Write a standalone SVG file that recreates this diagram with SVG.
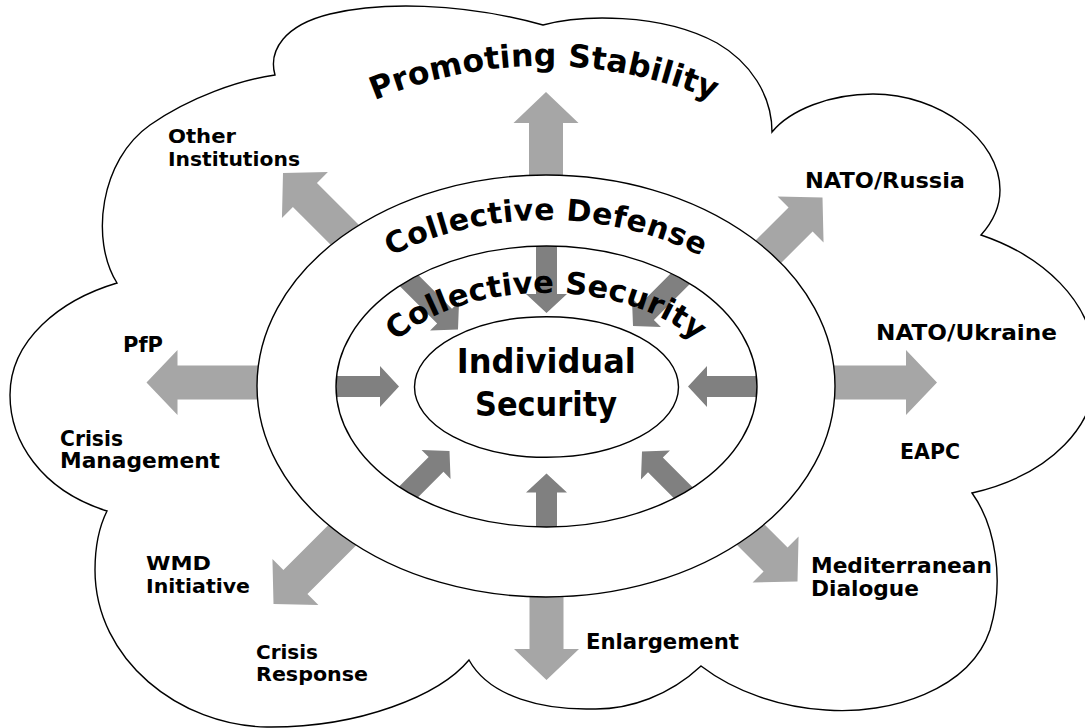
<svg xmlns="http://www.w3.org/2000/svg" xmlns:xlink="http://www.w3.org/1999/xlink" width="1085" height="728" viewBox="0 0 1085 728">
<style>
.outline{fill:#fff;stroke:#000;stroke-width:1.4}
.ring{fill:none;stroke:#000;stroke-width:1.4}
.la{fill:#a6a6a6}
.da{fill:#808080}
.lbl{font-family:"DejaVu Sans","Liberation Sans",sans-serif;font-weight:bold;fill:#000}
.arc{font-family:"DejaVu Sans","Liberation Sans",sans-serif;font-weight:bold;fill:#000}
</style>
<defs>
<path id="lightArrow" d="M0,0 L-31,-32.5 L-31,-17 L-200,-17 L-200,17 L-31,17 L-31,32.5 Z"/>
<path id="darkArrow" d="M0,0 L-19,-20.5 L-19,-10.5 L-130,-10.5 L-130,10.5 L-19,10.5 L-19,20.5 Z"/>
<clipPath id="midClip"><ellipse cx="546.5" cy="386.5" rx="210.5" ry="140.5"/></clipPath>
<path id="arcPromo" d="M108,502 A436,436 0 0 1 980,502"/>
<path id="arcDef" d="M298,386 A248,166 0 0 1 794,386"/>
<path id="arcSec" d="M370,395 A176,102 0 0 1 722,395"/>
</defs>

<g id="cloud">
<path class="outline" d="M117,283 C90,240 100,160 150,125 C190,97 240,80 275,75 C268,50 285,25 330,14 C380,2 460,2 543,25 C580,15 660,12 717,43 C750,62 772,95 772,132 C790,110 830,94 873,94 C940,94 1000,140 1000,190 C1000,210 990,225 981,235 C1040,255 1095,300 1095,365 C1100,425 1050,475 972,493 C995,525 1005,580 990,630 C970,690 890,715 826,710 C780,707 735,692 701,666 C670,695 630,710 592,709 C545,710 490,698 469,660 C440,695 360,728 267,727 C180,726 95,660 95,570 C95,545 100,525 107,511 C40,490 10,440 10,395 C10,340 60,300 117,283 Z"/>
</g>

<g id="connectors">
<g id="outer-arrows">
<use href="#lightArrow" class="la" transform="translate(546,92) rotate(-90)"/>
<use href="#lightArrow" class="la" transform="translate(283,173) rotate(-135)"/>
<use href="#lightArrow" class="la" transform="translate(822.5,197.5) rotate(-45)"/>
<use href="#lightArrow" class="la" transform="translate(937,382.5) rotate(0)"/>
<use href="#lightArrow" class="la" transform="translate(146.5,382.5) rotate(180)"/>
<use href="#lightArrow" class="la" transform="translate(273.5,604) rotate(135)"/>
<use href="#lightArrow" class="la" transform="translate(546.5,680) rotate(90)"/>
<use href="#lightArrow" class="la" transform="translate(797.5,581.5) rotate(45)"/>
</g>
</g>

<g id="collective-defense">
<ellipse class="outline" cx="546" cy="386" rx="289" ry="211"/>
</g>

<g id="collective-security">
<ellipse cx="546.5" cy="386.5" rx="210.5" ry="140.5" fill="#fff"/>
</g>

<g id="inner-arrows" clip-path="url(#midClip)">
<use href="#darkArrow" class="da" transform="translate(546.5,313) rotate(90)"/>
<use href="#darkArrow" class="da" transform="translate(458,329.5) rotate(45)"/>
<use href="#darkArrow" class="da" transform="translate(633,326) rotate(135)"/>
<use href="#darkArrow" class="da" transform="translate(399,386.5) rotate(0)"/>
<use href="#darkArrow" class="da" transform="translate(688,386.5) rotate(180)"/>
<use href="#darkArrow" class="da" transform="translate(546.5,473.5) rotate(-90)"/>
<use href="#darkArrow" class="da" transform="translate(449.5,451) rotate(-45)"/>
<use href="#darkArrow" class="da" transform="translate(642,451.5) rotate(-135)"/>
</g>

<g id="collective-security-ring">
<ellipse class="ring" cx="546.5" cy="386.5" rx="210.5" ry="140.5"/>
</g>

<g id="individual-security">
<ellipse class="outline" cx="546.5" cy="387" rx="132" ry="70.3"/>
<text class="lbl" x="546.3" y="372.7" font-size="33" text-anchor="middle" textLength="179" lengthAdjust="spacingAndGlyphs">Individual</text>
<text class="lbl" x="546" y="416" font-size="33" text-anchor="middle" textLength="142" lengthAdjust="spacingAndGlyphs">Security</text>
</g>

<g id="ring-titles">
<text class="arc" font-size="31.5" letter-spacing="0.1"><textPath href="#arcPromo" startOffset="50%" text-anchor="middle">Promoting Stability</textPath></text>
<text class="arc" font-size="30" letter-spacing="0.4"><textPath href="#arcDef" startOffset="50%" text-anchor="middle">Collective Defense</textPath></text>
<text class="arc" font-size="30.5" letter-spacing="0"><textPath href="#arcSec" startOffset="50%" text-anchor="middle">Collective Security</textPath></text>
</g>

<g id="other-institutions">
<text class="lbl" x="168" y="142.7" font-size="20" textLength="68" lengthAdjust="spacingAndGlyphs">Other</text>
<text class="lbl" x="168" y="166" font-size="20" textLength="132" lengthAdjust="spacingAndGlyphs">Institutions</text>
</g>
<g id="pfp">
<text class="lbl" x="123" y="351.7" font-size="21" textLength="40" lengthAdjust="spacingAndGlyphs">PfP</text>
</g>
<g id="crisis-management">
<text class="lbl" x="60" y="446" font-size="21" textLength="63" lengthAdjust="spacingAndGlyphs">Crisis</text>
<text class="lbl" x="60" y="468.3" font-size="21" textLength="160" lengthAdjust="spacingAndGlyphs">Management</text>
</g>
<g id="wmd-initiative">
<text class="lbl" x="146" y="570" font-size="19.5" textLength="65" lengthAdjust="spacingAndGlyphs">WMD</text>
<text class="lbl" x="146" y="593.3" font-size="19.5" textLength="104" lengthAdjust="spacingAndGlyphs">Initiative</text>
</g>
<g id="crisis-response">
<text class="lbl" x="256" y="658.7" font-size="19.5" textLength="62" lengthAdjust="spacingAndGlyphs">Crisis</text>
<text class="lbl" x="256" y="680.7" font-size="19.5" textLength="112" lengthAdjust="spacingAndGlyphs">Response</text>
</g>
<g id="nato-russia">
<text class="lbl" x="805" y="188.3" font-size="21.5" textLength="160" lengthAdjust="spacingAndGlyphs">NATO/Russia</text>
</g>
<g id="nato-ukraine">
<text class="lbl" x="876" y="340" font-size="22" textLength="181" lengthAdjust="spacingAndGlyphs">NATO/Ukraine</text>
</g>
<g id="eapc">
<text class="lbl" x="900" y="459.3" font-size="22" textLength="60" lengthAdjust="spacingAndGlyphs">EAPC</text>
</g>
<g id="mediterranean-dialogue">
<text class="lbl" x="811" y="572.7" font-size="22" textLength="181" lengthAdjust="spacingAndGlyphs">Mediterranean</text>
<text class="lbl" x="811" y="596" font-size="22" textLength="108" lengthAdjust="spacingAndGlyphs">Dialogue</text>
</g>
<g id="enlargement">
<text class="lbl" x="586" y="649.3" font-size="21" textLength="153" lengthAdjust="spacingAndGlyphs">Enlargement</text>
</g>
</svg>
